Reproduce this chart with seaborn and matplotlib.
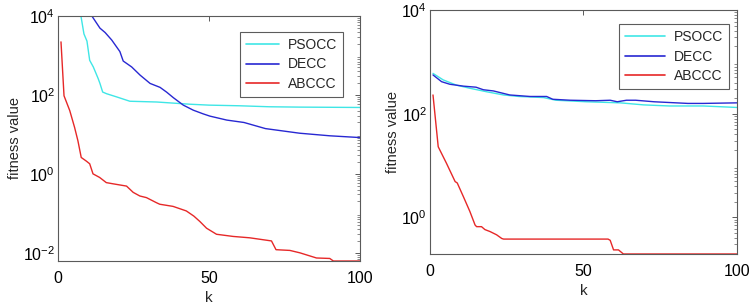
import numpy as np
import matplotlib
matplotlib.use("Agg")
import matplotlib.pyplot as plt
import matplotlib.ticker as mticker
import seaborn as sns
import pandas as pd

# ---- data (k, fitness value) ----
# left panel
l_pso_k = [7.6, 8.6, 9.6, 10.5, 11.7, 13.3, 13.9, 14.8, 16.1, 19.4, 23.8, 32.7, 43.7, 50, 60, 70, 80, 100]
l_pso_v = [1e4, 3500, 2300, 750, 510, 260, 195, 118, 107, 89, 69, 66, 58, 55, 53, 50, 49, 48]
l_de_k = [11.2, 13.9, 15.6, 17.8, 20.5, 21.6, 24.4, 27.2, 30.5, 33.8, 36, 38.2, 41.5, 44.8, 48.1,
          50.3, 55.9, 61.6, 68.7, 80, 90, 100]
l_de_v = [1e4, 4900, 3800, 2450, 1250, 720, 510, 316, 195, 155, 117, 85, 55, 41, 33,
          29, 23, 20, 14, 10.7, 9.2, 8.3]
l_abc_k = [1, 2, 3.9, 5.5, 6.6, 7.7, 9.4, 10.5, 11.6, 13.8, 16, 18.2, 22.7, 24.9, 27.1, 29.3,
           32.6, 33.7, 38.1, 42.5, 45, 47, 49.2, 52.5, 58, 63.5, 70.7, 72.2, 76.8, 80.1, 85.6, 90,
           91.2, 100]
l_abc_v = [2200, 95, 40, 15, 6.9, 2.6, 2.1, 1.8, 1.0, 0.81, 0.60, 0.56, 0.49, 0.34, 0.275, 0.25,
           0.186, 0.17, 0.150, 0.115, 0.085, 0.062, 0.042, 0.0295, 0.026, 0.024, 0.020, 0.012, 0.0115,
           0.010, 0.0074, 0.0072, 0.0062, 0.0062]

# right panel
r_pso_k = [1, 4.3, 8.7, 13, 18.5, 24, 29, 37, 41, 51, 62, 69.6, 78, 89, 100]
r_pso_v = [600, 450, 355, 310, 265, 230, 215, 205, 182, 170, 162, 148, 141, 141, 132]
r_de_k = [1, 3.8, 6.5, 11, 15, 17.4, 20.7, 26, 32.6, 38, 40, 45.7, 54, 58.7, 61, 64, 67, 73, 84,
          89, 100]
r_de_v = [560, 415, 370, 340, 325, 290, 275, 230, 215, 215, 190, 182, 178, 182, 170, 182, 182,
          170, 158, 158, 162]
r_abc_k = [1, 2.7, 5.4, 8.2, 8.9, 10.9, 13, 14.7, 15.2, 16.8, 17.9, 19.6, 21.7, 23.4, 24,
           58, 58.7, 59.8, 61.4, 63, 100]
r_abc_v = [230, 23, 11, 4.9, 4.6, 2.5, 1.3, 0.71, 0.66, 0.66, 0.58, 0.53, 0.46, 0.39, 0.38,
           0.38, 0.36, 0.235, 0.235, 0.196, 0.196]

names = ["PSOCC", "DECC", "ABCCC"]
colors = ["#3fe6e6", "#2828d2", "#e62828"]

sns.set_style("white")
plt.rcParams['font.family'] = ['Liberation Sans', 'DejaVu Sans']
plt.rcParams['mathtext.fontset'] = 'custom'
plt.rcParams['mathtext.rm'] = 'Liberation Sans'
plt.rcParams['mathtext.it'] = 'Liberation Sans:italic'

fig = plt.figure(figsize=(7.49, 3.06), dpi=100)
ax1 = fig.add_axes([0.0774, 0.147, 0.4032, 0.801])
ax2 = fig.add_axes([0.574, 0.170, 0.410, 0.797])

edge = "#5a5a5a"


def panel(ax, series, ymin, yticks, leg_anchor, hlen):
    for (k, v), name, c in zip(series, names, colors):
        df = pd.DataFrame({"k": k, "v": v})
        sns.lineplot(data=df, x="k", y="v", ax=ax, color=c, label=name, linewidth=1.0,
                     estimator=None, sort=False)
    ax.set_yscale("log")
    ax.set_xlim(0, 100)
    ax.set_ylim(ymin, 1e4)
    ax.set_xticks([0, 50, 100])
    ax.yaxis.set_major_locator(mticker.FixedLocator(yticks))
    ax.yaxis.set_minor_locator(mticker.LogLocator(base=10, subs=np.arange(2, 10), numticks=20))
    ax.yaxis.set_minor_formatter(mticker.NullFormatter())
    ax.tick_params(which="both", direction="in", top=True, right=True, colors=edge,
                   labelcolor="black", labelsize=11.5)
    ax.tick_params(which="major", length=3.5, width=0.7)
    ax.tick_params(which="minor", length=2, width=0.5)
    ax.tick_params(axis="x", which="major", pad=7)
    ax.tick_params(axis="y", which="major", pad=2)
    ax.tick_params(axis="x", which="minor", length=0)
    for s in ax.spines.values():
        s.set_color(edge)
        s.set_linewidth(0.8)
    ax.set_xlabel("k", fontsize=11, labelpad=4)
    ax.set_ylabel("fitness value", fontsize=10.5, labelpad=1)
    leg = ax.legend(loc="upper right", bbox_to_anchor=leg_anchor, borderaxespad=0,
                    fontsize=10, frameon=True, fancybox=False, edgecolor="#333333",
                    handlelength=hlen, borderpad=0.45, labelspacing=0.38, handletextpad=0.6)
    leg.get_frame().set_linewidth(0.8)
    for h in leg.get_lines():
        h.set_linewidth(1.2)


panel(ax1, [(l_pso_k, l_pso_v), (l_de_k, l_de_v), (l_abc_k, l_abc_v)],
      min(l_abc_v), [1e-2, 1e0, 1e2, 1e4], (0.944, 0.935), 2.4)
panel(ax2, [(r_pso_k, r_pso_v), (r_de_k, r_de_v), (r_abc_k, r_abc_v)],
      min(r_abc_v), [1e0, 1e2, 1e4], (0.974, 0.943), 2.9)

fig.savefig("out.png", dpi=100)
